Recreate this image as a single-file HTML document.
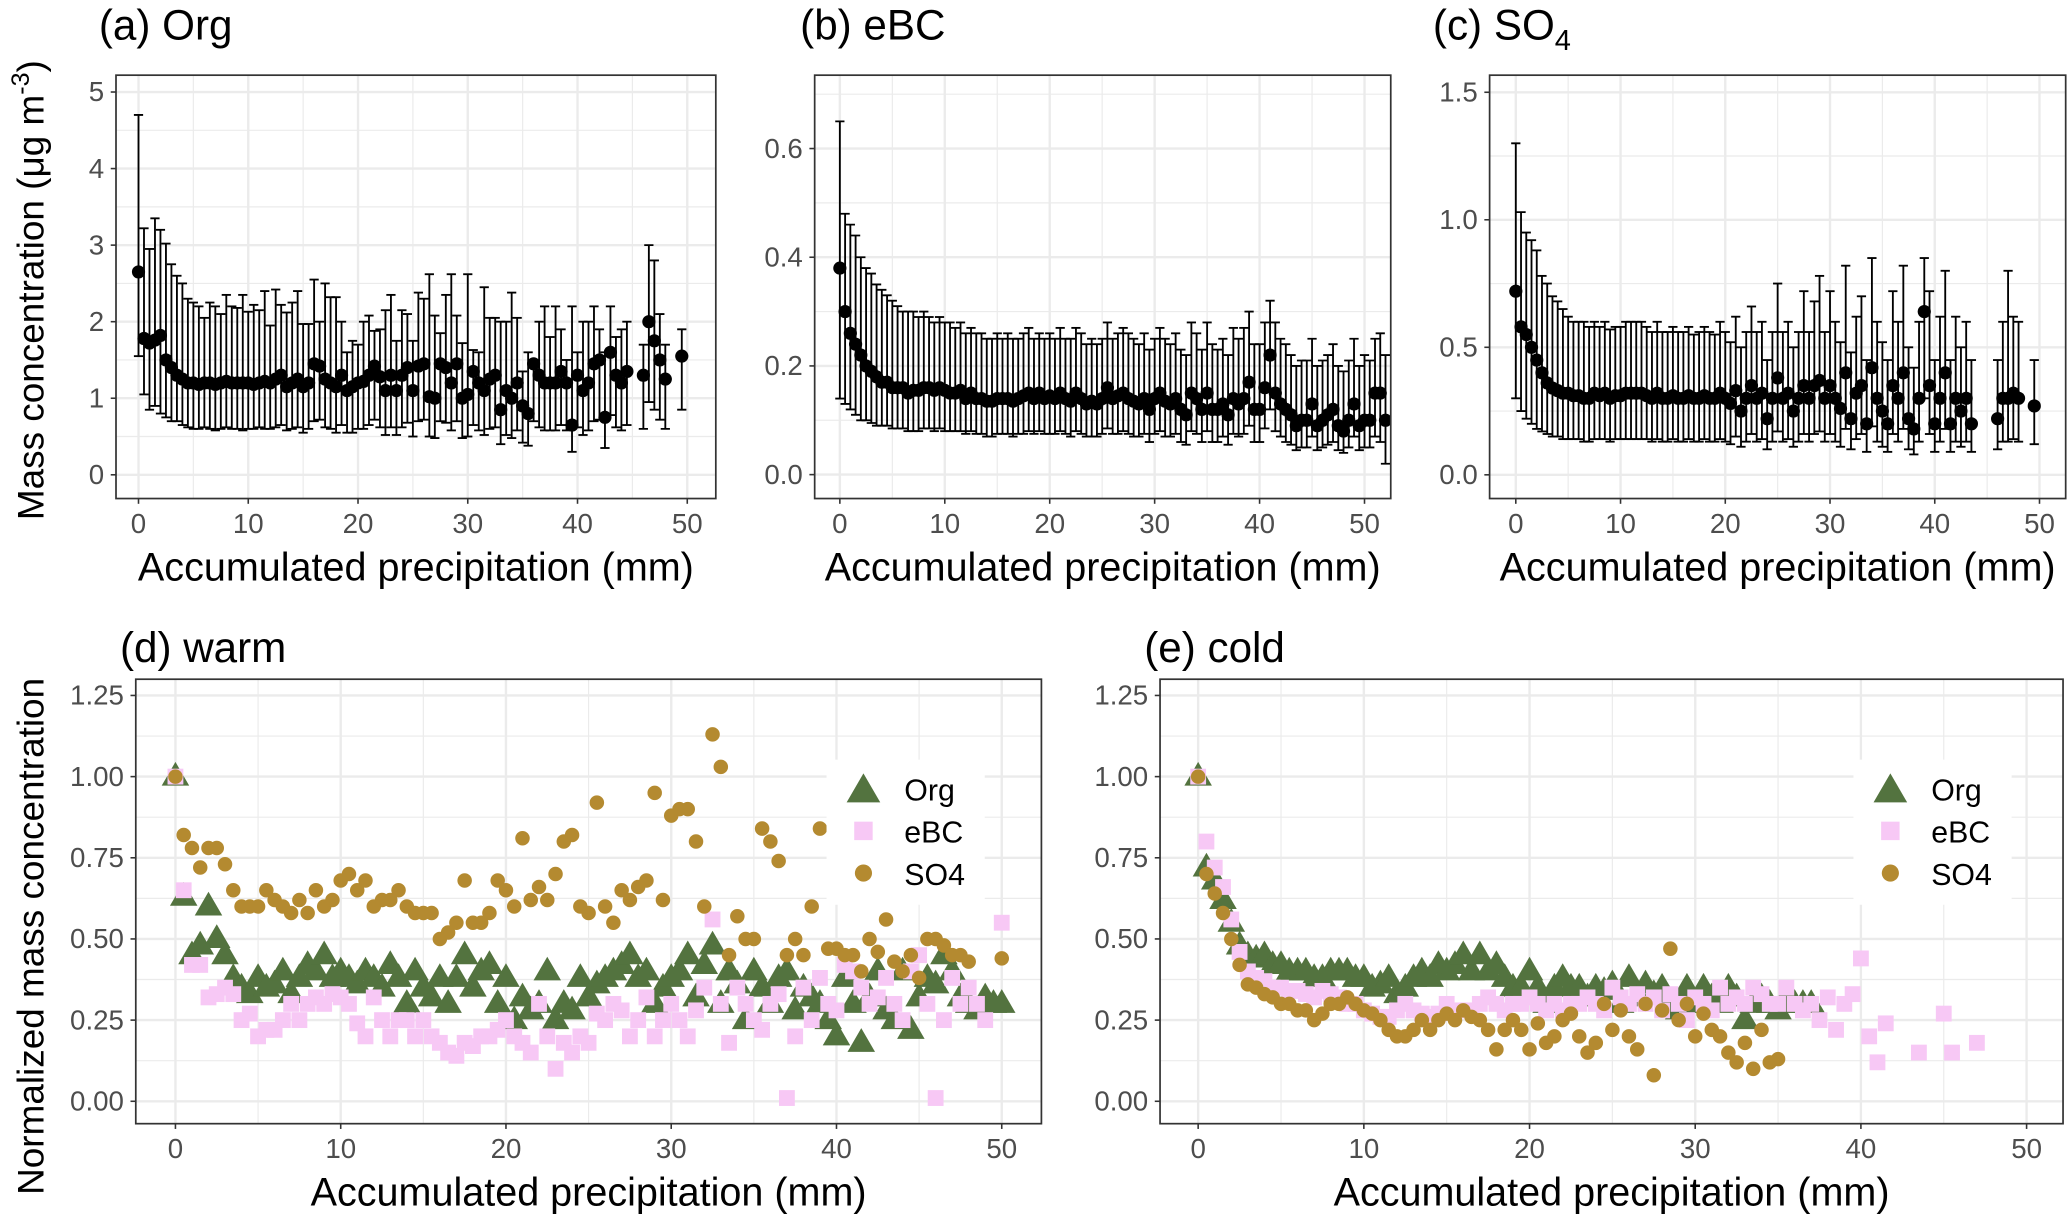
<!DOCTYPE html>
<html><head><meta charset="utf-8">
<style>
html,body{margin:0;padding:0;background:#fff;}
svg{display:block;font-family:"Liberation Sans",Arial,sans-serif;}
</style></head>
<body>
<svg id="fig" width="2067" height="1216" viewBox="0 0 1568 922" preserveAspectRatio="none" xmlns="http://www.w3.org/2000/svg">
<rect x="0" y="0" width="1568" height="922" fill="#fff"/>
<g id="layer"></g>
</svg>
<script>
// ---------- data ----------
const precipStep = 0.5;
const orgMean = [2.65,1.78,1.72,1.76,1.82,1.5,1.4,1.3,1.25,1.2,1.2,1.18,1.2,1.2,1.18,1.2,1.22,1.2,1.2,1.2,1.2,1.18,1.2,1.22,1.2,1.25,1.3,1.15,1.2,1.25,1.15,1.2,1.45,1.42,1.25,1.2,1.15,1.3,1.1,1.15,1.2,1.22,1.3,1.42,1.28,1.1,1.3,1.1,1.3,1.4,1.1,1.42,1.45,1.02,1.0,1.45,1.4,1.2,1.45,1.0,1.05,1.35,1.2,1.1,1.25,1.3,0.85,1.1,1.0,1.2,0.9,0.8,1.45,1.3,1.2,1.2,1.2,1.35,1.2,0.65,1.3,1.1,1.2,1.45,1.5,0.75,1.6,1.3,1.2,1.35,null,null,1.3,2.0,1.75,1.5,1.25,null,null,1.55];
const orgHi = [4.7,3.22,2.95,3.35,3.2,3.02,2.75,2.6,2.5,2.3,2.25,2.2,2.05,2.25,2.2,2.1,2.35,2.2,2.18,2.35,2.13,2.22,2.15,2.4,1.95,2.42,2.22,2.12,2.25,2.4,1.97,1.97,2.55,2.0,2.5,2.32,2.32,2.0,1.6,1.75,1.7,2.0,2.08,1.88,1.9,2.15,2.35,1.75,2.15,2.1,1.75,2.38,2.3,2.62,2.08,1.85,2.35,2.62,2.08,1.72,2.62,1.63,1.6,2.45,2.05,2.05,2.0,2.0,2.38,2.05,1.35,1.6,1.5,2.0,2.2,1.8,2.2,1.9,1.5,2.2,1.6,2.0,2.0,2.2,1.9,1.6,2.2,1.8,1.9,2.0,null,null,1.7,3.0,2.8,2.1,1.7,null,null,1.9];
const orgLo = [1.55,1.05,0.85,0.9,0.8,0.75,0.7,0.7,0.65,0.62,0.6,0.6,0.62,0.6,0.58,0.6,0.62,0.6,0.6,0.58,0.6,0.6,0.62,0.6,0.6,0.62,0.65,0.58,0.6,0.62,0.55,0.6,0.7,0.72,0.62,0.6,0.55,0.65,0.55,0.55,0.6,0.6,0.65,0.72,0.62,0.52,0.62,0.52,0.62,0.68,0.5,0.7,0.72,0.5,0.48,0.7,0.68,0.58,0.7,0.48,0.5,0.65,0.58,0.52,0.6,0.62,0.4,0.52,0.48,0.58,0.42,0.38,0.7,0.62,0.58,0.58,0.58,0.65,0.58,0.3,0.62,0.52,0.58,0.7,0.72,0.35,0.78,0.62,0.58,0.65,null,null,0.6,0.95,0.85,0.72,0.6,null,null,0.85];

const ebcMean = [0.38,0.3,0.26,0.24,0.22,0.2,0.19,0.18,0.17,0.17,0.16,0.16,0.16,0.15,0.155,0.155,0.16,0.16,0.155,0.16,0.155,0.15,0.15,0.155,0.14,0.15,0.14,0.14,0.135,0.135,0.14,0.14,0.14,0.135,0.14,0.145,0.15,0.14,0.15,0.14,0.145,0.14,0.15,0.14,0.135,0.15,0.14,0.13,0.135,0.13,0.14,0.16,0.14,0.145,0.15,0.14,0.135,0.13,0.14,0.12,0.14,0.15,0.135,0.13,0.14,0.12,0.11,0.15,0.14,0.12,0.15,0.12,0.12,0.13,0.11,0.14,0.13,0.14,0.17,0.12,0.12,0.16,0.22,0.15,0.13,0.12,0.11,0.09,0.1,0.1,0.13,0.09,0.1,0.11,0.12,0.09,0.08,0.1,0.13,0.09,0.1,0.1,0.15,0.15,0.1];
const ebcHi = [0.65,0.48,0.46,0.44,0.4,0.38,0.37,0.35,0.34,0.33,0.32,0.31,0.3,0.3,0.3,0.29,0.3,0.29,0.28,0.29,0.28,0.28,0.27,0.28,0.26,0.27,0.26,0.26,0.25,0.25,0.26,0.25,0.26,0.25,0.25,0.26,0.27,0.25,0.26,0.25,0.26,0.25,0.27,0.25,0.25,0.27,0.26,0.24,0.25,0.24,0.25,0.28,0.25,0.26,0.27,0.26,0.25,0.24,0.26,0.23,0.25,0.27,0.25,0.24,0.26,0.23,0.22,0.28,0.26,0.23,0.28,0.24,0.23,0.25,0.22,0.27,0.25,0.27,0.3,0.24,0.24,0.28,0.32,0.28,0.25,0.24,0.22,0.2,0.21,0.21,0.25,0.2,0.21,0.22,0.24,0.2,0.19,0.21,0.25,0.2,0.22,0.21,0.25,0.26,0.22];
const ebcLo = [0.14,0.13,0.12,0.11,0.1,0.1,0.095,0.09,0.09,0.09,0.085,0.085,0.085,0.08,0.08,0.08,0.085,0.085,0.08,0.085,0.08,0.08,0.08,0.08,0.075,0.08,0.075,0.075,0.07,0.07,0.075,0.075,0.075,0.07,0.075,0.075,0.08,0.075,0.08,0.075,0.075,0.075,0.08,0.075,0.07,0.08,0.075,0.07,0.07,0.07,0.075,0.085,0.075,0.075,0.08,0.075,0.07,0.07,0.075,0.06,0.075,0.08,0.07,0.07,0.075,0.06,0.055,0.08,0.075,0.06,0.08,0.06,0.06,0.07,0.055,0.075,0.07,0.075,0.09,0.06,0.06,0.085,0.12,0.08,0.07,0.06,0.055,0.045,0.05,0.05,0.07,0.045,0.05,0.055,0.06,0.045,0.04,0.05,0.07,0.045,0.05,0.05,0.07,0.06,0.02];

const so4Mean = [0.72,0.58,0.55,0.5,0.45,0.4,0.36,0.34,0.33,0.32,0.32,0.31,0.31,0.3,0.3,0.32,0.31,0.32,0.3,0.31,0.31,0.32,0.32,0.32,0.32,0.31,0.3,0.32,0.3,0.3,0.31,0.3,0.3,0.31,0.3,0.3,0.31,0.3,0.3,0.32,0.3,0.28,0.33,0.25,0.3,0.35,0.3,0.32,0.22,0.3,0.38,0.3,0.32,0.25,0.3,0.35,0.3,0.35,0.37,0.3,0.35,0.3,0.26,0.4,0.22,0.32,0.35,0.2,0.42,0.3,0.25,0.2,0.35,0.3,0.4,0.22,0.18,0.3,0.64,0.35,0.2,0.3,0.4,0.2,0.3,0.25,0.3,0.2,null,null,null,null,0.22,0.3,0.3,0.32,0.3,null,null,0.27];
const so4Hi = [1.3,1.03,0.95,0.92,0.88,0.78,0.75,0.7,0.68,0.65,0.62,0.6,0.6,0.6,0.58,0.6,0.58,0.6,0.57,0.58,0.58,0.6,0.6,0.6,0.6,0.58,0.56,0.6,0.56,0.56,0.58,0.56,0.56,0.58,0.55,0.56,0.58,0.56,0.55,0.6,0.56,0.52,0.62,0.5,0.56,0.66,0.56,0.6,0.45,0.56,0.75,0.56,0.6,0.5,0.56,0.72,0.56,0.68,0.78,0.56,0.72,0.6,0.52,0.82,0.48,0.62,0.7,0.45,0.85,0.6,0.52,0.45,0.72,0.6,0.82,0.5,0.42,0.6,0.85,0.72,0.45,0.62,0.8,0.45,0.62,0.5,0.6,0.45,null,null,null,null,0.45,0.6,0.8,0.62,0.6,null,null,0.45];
const so4Lo = [0.3,0.25,0.22,0.2,0.18,0.17,0.16,0.15,0.15,0.14,0.14,0.14,0.14,0.13,0.13,0.14,0.14,0.14,0.13,0.14,0.14,0.14,0.14,0.14,0.14,0.14,0.13,0.14,0.13,0.13,0.14,0.13,0.13,0.14,0.13,0.13,0.14,0.13,0.13,0.14,0.13,0.12,0.15,0.11,0.13,0.16,0.13,0.14,0.1,0.13,0.17,0.13,0.14,0.11,0.13,0.16,0.13,0.16,0.17,0.13,0.16,0.13,0.11,0.18,0.1,0.14,0.16,0.09,0.19,0.13,0.11,0.09,0.16,0.13,0.18,0.1,0.08,0.13,0.3,0.16,0.09,0.13,0.18,0.09,0.13,0.11,0.13,0.09,null,null,null,null,0.1,0.13,0.13,0.14,0.13,null,null,0.12];

const warmOrg = [1.0,0.63,0.45,0.48,0.6,0.5,0.45,0.38,0.35,0.33,0.38,0.35,0.36,0.4,0.33,0.38,0.42,0.4,0.45,0.38,0.4,0.38,0.36,0.4,0.38,0.35,0.42,0.38,0.3,0.4,0.35,0.32,0.38,0.3,0.38,0.45,0.35,0.4,0.42,0.3,0.38,0.25,0.32,0.28,0.3,0.4,0.25,0.3,0.28,0.38,0.32,0.36,0.38,0.4,0.42,0.45,0.38,0.4,0.3,0.35,0.38,0.4,0.45,0.32,0.42,0.48,0.3,0.4,0.36,0.25,0.4,0.35,0.3,0.38,0.4,0.28,0.35,0.32,0.3,0.25,0.2,0.38,0.3,0.18,0.32,0.4,0.28,0.25,0.4,0.22,0.32,0.38,0.36,0.45,0.4,0.32,0.3,0.28,0.32,0.3,0.3];
const warmEBC = [1.0,0.65,0.42,0.42,0.32,0.33,0.35,0.33,0.25,0.27,0.2,0.22,0.22,0.25,0.3,0.25,0.3,0.32,0.3,0.33,0.32,0.3,0.24,0.2,0.32,0.25,0.2,0.25,0.25,0.2,0.25,0.2,0.18,0.15,0.14,0.18,0.17,0.2,0.2,0.22,0.25,0.2,0.18,0.15,0.3,0.2,0.1,0.18,0.15,0.2,0.18,0.27,0.25,0.3,0.28,0.2,0.25,0.32,0.2,0.25,0.3,0.25,0.2,0.28,0.35,0.56,0.3,0.18,0.35,0.3,0.25,0.22,0.3,0.33,0.01,0.2,0.35,0.25,0.38,0.3,0.28,0.42,0.4,0.35,0.3,0.32,0.38,0.3,0.25,0.4,0.45,0.3,0.01,0.25,0.38,0.3,0.35,0.3,0.25,null,0.55];
const warmSO4 = [1.0,0.82,0.78,0.72,0.78,0.78,0.73,0.65,0.6,0.6,0.6,0.65,0.62,0.6,0.58,0.62,0.58,0.65,0.6,0.62,0.68,0.7,0.65,0.68,0.6,0.62,0.62,0.65,0.6,0.58,0.58,0.58,0.5,0.52,0.55,0.68,0.55,0.55,0.58,0.68,0.65,0.6,0.81,0.62,0.66,0.62,0.7,0.8,0.82,0.6,0.58,0.92,0.6,0.55,0.65,0.62,0.66,0.68,0.95,0.62,0.88,0.9,0.9,0.8,0.6,1.13,1.03,0.45,0.57,0.5,0.5,0.84,0.8,0.74,0.45,0.5,0.45,0.6,0.84,0.47,0.47,0.45,0.45,0.4,0.5,0.46,0.56,0.43,0.4,0.45,0.38,0.5,0.5,0.48,0.45,0.45,0.43,null,null,null,0.44];

const coldOrg = [1.0,0.72,0.68,0.62,0.55,0.48,0.45,0.44,0.45,0.42,0.42,0.4,0.4,0.4,0.38,0.38,0.4,0.4,0.4,0.38,0.38,0.35,0.36,0.38,0.33,0.35,0.38,0.4,0.38,0.42,0.4,0.42,0.45,0.4,0.45,0.4,0.42,0.38,0.35,0.35,0.4,0.35,0.3,0.35,0.38,0.35,0.35,0.32,0.35,0.34,0.36,0.3,0.38,0.32,0.36,0.33,0.35,0.3,0.28,0.35,0.3,0.35,0.32,0.3,0.35,0.32,0.25,0.3,0.32,0.3,0.28,0.32,0.3,0.3,0.3];
const coldEBC = [1.0,0.8,0.72,0.66,0.56,0.46,0.4,0.38,0.37,0.35,0.35,0.34,0.34,0.33,0.32,0.34,0.33,0.32,0.3,0.3,0.28,0.27,0.26,0.26,0.28,0.3,0.28,0.27,0.26,0.27,0.3,0.28,0.28,0.28,0.3,0.32,0.3,0.28,0.3,0.3,0.32,0.3,0.28,0.3,0.28,0.3,0.3,0.32,0.3,0.28,0.35,0.32,0.3,0.33,0.3,0.32,0.28,0.33,0.3,0.25,0.32,0.3,0.28,0.35,0.3,0.32,0.3,0.35,0.33,0.3,0.3,0.35,0.3,0.28,0.3,0.25,0.32,0.22,0.3,0.33,0.44,0.2,0.12,0.24,null,null,null,0.15,null,null,0.27,0.15,null,null,0.18];
const coldSO4 = [1.0,0.7,0.64,0.58,0.5,0.42,0.36,0.35,0.33,0.32,0.3,0.3,0.28,0.28,0.25,0.27,0.3,0.3,0.32,0.3,0.28,0.27,0.25,0.22,0.2,0.2,0.22,0.25,0.22,0.25,0.27,0.25,0.28,0.26,0.25,0.22,0.16,0.22,0.25,0.22,0.16,0.24,0.18,0.2,0.25,0.27,0.2,0.15,0.18,0.3,0.22,0.28,0.2,0.16,0.3,0.08,0.28,0.47,0.25,0.3,0.2,0.27,0.22,0.2,0.15,0.12,0.18,0.1,0.22,0.12,0.13];

const xTickLabels = ["0","10","20","30","40","50"];
const yTicksA = ["0","1","2","3","4","5"];
const yTicksB = ["0.0","0.2","0.4","0.6"];
const yTicksC = ["0.0","0.5","1.0","1.5"];
const yTicksDE = ["0.00","0.25","0.50","0.75","1.00","1.25"];
const legendLabels = ["Org","eBC","SO4"];

// ---------- drawing ----------
const NS = "http://www.w3.org/2000/svg";
const layer = document.getElementById('layer');
function mk(tag, attrs, parent) {
  const e = document.createElementNS(NS, tag);
  for (const k in attrs) e.setAttribute(k, attrs[k]);
  (parent || layer).appendChild(e);
  return e;
}
const GREEN = "#53733f", PINK = "#f7c8f5", GOLD = "#b48a30";

function makePanel(name, box, xd, yd, yTicks, yStep) {
  const g = mk('g', {});
  
  
  const sx = v => box.l + (v - xd[0]) / (xd[1] - xd[0]) * (box.r - box.l);
  const sy = v => box.b - (v - yd[0]) / (yd[1] - yd[0]) * (box.b - box.t);
  const grid = mk('g', {}, g);
  
  
  for (let v = -5; v <= 55; v += 5) {
    if (v % 10 === 0) continue;
    const x = sx(v); if (x <= box.l || x >= box.r) continue;
    mk('line', {x1:x, x2:x, y1:box.t, y2:box.b, stroke:'#ebebeb', 'stroke-width':0.9}, grid);
  }
  for (let i = -1; i <= yTicks.length; i++) {
    const y = sy((i + 0.5) * yStep); if (y <= box.t || y >= box.b) continue;
    mk('line', {x1:box.l, x2:box.r, y1:y, y2:y, stroke:'#ebebeb', 'stroke-width':0.9}, grid);
  }
  xTickLabels.forEach((lab, i) => {
    const x = sx(i * 10);
    mk('line', {x1:x, x2:x, y1:box.t, y2:box.b, stroke:'#ebebeb', 'stroke-width':1.8}, grid);
    mk('line', {x1:x, x2:x, y1:box.b, y2:box.b + 4, stroke:'#333', 'stroke-width':1.2}, g);
    const t = mk('text', {x:x, y:box.b + 26, 'font-size':21, fill:'#4d4d4d', 'text-anchor':'middle'}, g);
    t.textContent = lab;
    
    
  });
  yTicks.forEach((lab, i) => {
    const y = sy(i * yStep);
    mk('line', {x1:box.l, x2:box.r, y1:y, y2:y, stroke:'#ebebeb', 'stroke-width':1.8}, grid);
    mk('line', {x1:box.l - 4, x2:box.l, y1:y, y2:y, stroke:'#333', 'stroke-width':1.2}, g);
    const t = mk('text', {x:box.l - 9, y:y + 7, 'font-size':21, fill:'#4d4d4d', 'text-anchor':'end'}, g);
    t.textContent = lab;
    
    
  });
  const clip = 'clip-' + name;
  const cp = mk('clipPath', {id:clip}, g);
  mk('rect', {x:box.l, y:box.t, width:box.r - box.l, height:box.b - box.t}, cp);
  const data = mk('g', {'clip-path':'url(#' + clip + ')'}, g);
  const frame = mk('rect', {x:box.l, y:box.t, width:box.r - box.l, height:box.b - box.t, fill:'none', stroke:'#333', 'stroke-width':1.3}, g);
  
  
  const xl = mk('text', {x:(box.l + box.r) / 2, y:box.b + 62, 'font-size':30, fill:'#000', 'text-anchor':'middle'}, g);
  xl.textContent = 'Accumulated precipitation (mm)';
  
  
  return {g, data, sx, sy};
}

function errorPanel(p, mean, hi, lo, cap) {
  mean.forEach((m, i) => {
    if (m === null) return;
    const x = p.sx(i * precipStep);
    const eb = mk('g', {}, p.data);
    
    
    mk('line', {x1:x, x2:x, y1:p.sy(hi[i]), y2:p.sy(lo[i]), stroke:'#000', 'stroke-width':1.4}, eb);
    mk('line', {x1:x - cap, x2:x + cap, y1:p.sy(hi[i]), y2:p.sy(hi[i]), stroke:'#000', 'stroke-width':1.4}, eb);
    mk('line', {x1:x - cap, x2:x + cap, y1:p.sy(lo[i]), y2:p.sy(lo[i]), stroke:'#000', 'stroke-width':1.4}, eb);
  });
  mean.forEach((m, i) => {
    if (m === null) return;
    const c = mk('circle', {cx:p.sx(i * precipStep), cy:p.sy(m), r:5, fill:'#000'}, p.data);
    
    
  });
}

function tri(parent, x, y, s, fill) {
  return mk('polygon', {points:`${x},${y - s * 0.62} ${x - s * 0.58},${y + s * 0.38} ${x + s * 0.58},${y + s * 0.38}`, fill}, parent);
}
function scatterPanel(p, org, ebc, so4) {
  org.forEach((v, i) => { if (v === null) return;
    const e = tri(p.data, p.sx(i * precipStep), p.sy(v), 18, GREEN);
    
     });
  ebc.forEach((v, i) => { if (v === null) return;
    const e = mk('rect', {x:p.sx(i * precipStep) - 6, y:p.sy(v) - 6, width:12, height:12, fill:PINK}, p.data);
    
     });
  so4.forEach((v, i) => { if (v === null) return;
    const e = mk('circle', {cx:p.sx(i * precipStep), cy:p.sy(v), r:5.5, fill:GOLD}, p.data);
    
     });
}
function legend(p, lx, ty, name) {
  const lg = mk('g', {}, p.g);
  
  
  mk('rect', {x:lx - 28, y:ty - 22, width:120, height:110, fill:'#fff'}, lg);
  tri(lg, lx, ty + 2, 22, GREEN);
  mk('rect', {x:lx - 7, y:ty + 25, width:14, height:14, fill:PINK}, lg);
  mk('circle', {cx:lx, cy:ty + 64, r:6.5, fill:GOLD}, lg);
  legendLabels.forEach((lab, i) => {
    const t = mk('text', {x:lx + 31, y:ty + 9 + i * 32, 'font-size':23, fill:'#000'}, lg);
    t.textContent = lab;
    
    
  });
}

const pa = makePanel('panel-a-org', {l:88, r:543, t:57, b:378}, [-2.05, 52.6], [-0.31, 5.22], yTicksA, 1);
errorPanel(pa, orgMean, orgHi, orgLo, 3.5);
const pb = makePanel('panel-b-ebc', {l:618, r:1055, t:57, b:378}, [-2.4, 52.5], [-0.044, 0.735], yTicksB, 0.2);
errorPanel(pb, ebcMean, ebcHi, ebcLo, 3.5);
const pc = makePanel('panel-c-so4', {l:1130, r:1567, t:57, b:378}, [-2.5, 52.5], [-0.093, 1.567], yTicksC, 0.5);
errorPanel(pc, so4Mean, so4Hi, so4Lo, 3.5);
const pd = makePanel('panel-d-warm', {l:103, r:790, t:515, b:852}, [-2.4, 52.4], [-0.069, 1.30], yTicksDE, 0.25);
scatterPanel(pd, warmOrg, warmEBC, warmSO4);
legend(pd, 655, 598, 'legend-warm');
const pe = makePanel('panel-e-cold', {l:880, r:1565, t:515, b:852}, [-2.3, 52.2], [-0.069, 1.30], yTicksDE, 0.25);
scatterPanel(pe, coldOrg, coldEBC, coldSO4);
legend(pe, 1434, 598, 'legend-cold');

// titles
function ttl(x, y, size, html, name, anchor, rot) {
  const e = mk('text', {x:x, y:y, 'font-size':size, fill:'#000'});
  if (anchor) e.setAttribute('text-anchor', anchor);
  if (rot) e.setAttribute('transform', rot);
  e.innerHTML = html;
  
  
}
ttl(75,30,32,'(a) Org','panel-a-title');
ttl(607,30,32,'(b) eBC','panel-b-title');
ttl(1087,30,32,'(c) SO<tspan font-size="22" dy="8">4</tspan>','panel-c-title');
ttl(91,502,32,'(d) warm','panel-d-title');
ttl(868,502,32,'(e) cold','panel-e-title');
ttl(0,0,28,'Mass  concentration (μg m<tspan font-size="19" dy="-11">-3</tspan><tspan dy="11">)</tspan>','y-axis-title-top','middle','translate(33,220) rotate(-90)');
ttl(0,0,28,'Normalized mass concentration','y-axis-title-bottom','middle','translate(33,710) rotate(-90)');
</script>
</body></html>
